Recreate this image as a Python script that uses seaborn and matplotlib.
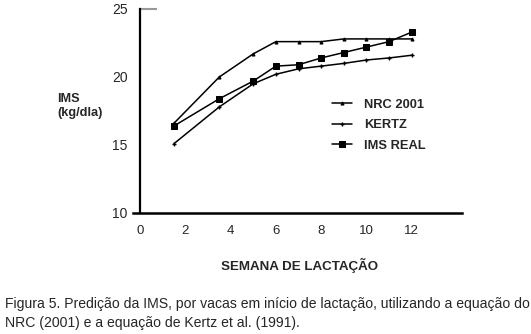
import matplotlib
matplotlib.use("Agg")
import matplotlib.pyplot as plt
import seaborn as sns
import pandas as pd

sns.set_style("white")
plt.rcParams["font.family"] = ["Liberation Sans", "DejaVu Sans"]

weeks = [1.5, 3.5, 5, 6, 7, 8, 9, 10, 11, 12]
nrc_2001 = [16.6, 20.0, 21.7, 22.6, 22.6, 22.6, 22.8, 22.8, 22.8, 22.8]
kertz = [15.1, 17.8, 19.5, 20.2, 20.6, 20.8, 21.0, 21.25, 21.4, 21.6]
ims_real = [16.4, 18.4, 19.7, 20.8, 20.9, 21.4, 21.8, 22.2, 22.6, 23.3]
series_names = ["NRC 2001", "KERTZ", "IMS REAL"]
x_ticks = [0, 2, 4, 6, 8, 10, 12]
y_ticks = [10, 15, 20, 25]

df = pd.DataFrame({
    "semana": weeks * 3,
    "ims": nrc_2001 + kertz + ims_real,
    "serie": [s for s in series_names for _ in weeks],
})

W, H = 531, 334
fig = plt.figure(figsize=(W / 100, H / 100), dpi=100)
ax = fig.add_axes([133 / W, 1 - 213 / H, (462 - 133) / W, (213 - 9) / H])

styles = {
    "NRC 2001": dict(marker="^", markersize=2.2),
    "KERTZ": dict(marker="+", markersize=3.5, markeredgewidth=1.0),
    "IMS REAL": dict(marker="s", markersize=4.3),
}
for name in series_names:
    sub = df[df["serie"] == name]
    sns.lineplot(data=sub, x="semana", y="ims", ax=ax, color="black",
                 linewidth=1.1, label=name, markeredgecolor="black",
                 markerfacecolor="black", **styles[name])

ax.set_xlim(-0.31, 14.22)
ax.set_ylim(10, 25)
ax.set_xticks(x_ticks)
ax.set_yticks(y_ticks)
ax.set_xticklabels([str(t) for t in x_ticks], fontsize=9.5)
ax.set_yticklabels([str(t) for t in y_ticks], fontsize=9.5)
ax.tick_params(axis="x", direction="out", length=4, width=1, color="#888888", pad=5)
ax.tick_params(axis="y", length=0, pad=9)
ax.set_xlabel("")
ax.set_ylabel("")

for side in ["top", "right"]:
    ax.spines[side].set_visible(False)
ax.spines["left"].set_position(("data", 0))
ax.spines["left"].set_linewidth(1.6)
ax.spines["bottom"].set_linewidth(1.8)
ax.spines["left"].set_color("black")
ax.spines["bottom"].set_color("black")

# short grey cap at the top of the y axis
ax.hlines(25, 0, 0.75, colors="#999999", linewidth=1.5, clip_on=False)

leg = ax.legend(loc="upper left", bbox_to_anchor=((320 - 133) / (462 - 133), (213 - 87) / (213 - 9)),
                frameon=False, handlelength=1.6, handletextpad=0.9, labelspacing=0.65,
                prop={"weight": "bold", "size": 9.3})

fig.text(57 / W, 1 - 106 / H, "IMS\n(kg/dla)", fontsize=9.2, fontweight="bold",
         ha="left", va="center", linespacing=1.25)
fig.text(300 / W, 1 - 265 / H, "SEMANA DE LACTAÇÃO", fontsize=9.6, fontweight="bold",
         ha="center", va="center")
fig.text(5 / W, 1 - 304 / H,
         "Figura 5. Predição da IMS, por vacas em início de lactação, utilizando a equação do",
         fontsize=10.1, ha="left", va="center")
fig.text(5 / W, 1 - 323 / H, "NRC (2001) e a equação de Kertz et al. (1991).",
         fontsize=10.1, ha="left", va="center")

fig.savefig("out.png", dpi=100)
